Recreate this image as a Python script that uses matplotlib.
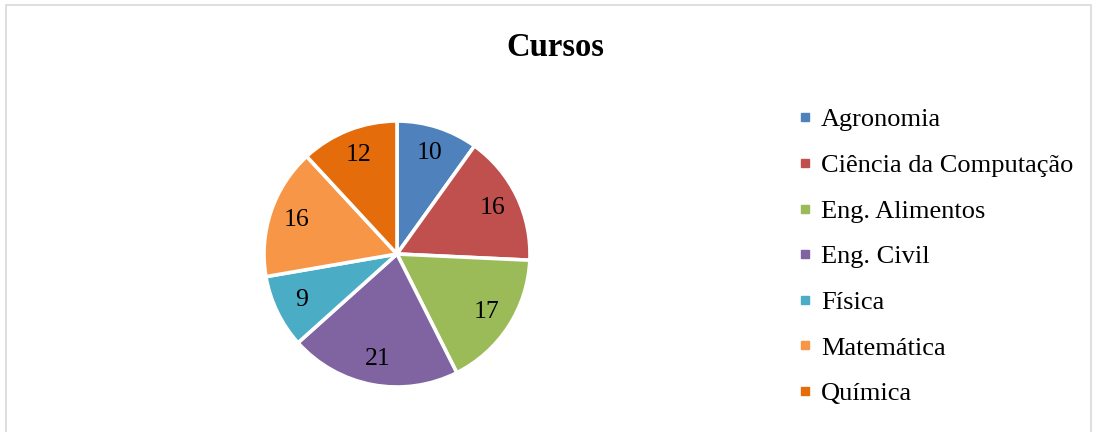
import matplotlib
matplotlib.use("Agg")
import matplotlib.pyplot as plt
from matplotlib.lines import Line2D
from matplotlib.patches import Rectangle

# dados do grafico
cursos = ["Agronomia", "Ciência da Computação", "Eng. Alimentos", "Eng. Civil",
          "Física", "Matemática", "Química"]
valores = [10, 16, 17, 21, 9, 16, 12]
cores = ["#4F81BD", "#C0504D", "#9BBB59", "#8064A2", "#4BACC6", "#F79646", "#E46C0A"]

plt.rcParams['font.family'] = ['Liberation Serif', 'DejaVu Serif']

fig = plt.figure(figsize=(10.95, 4.32), dpi=100)

# moldura do grafico
fig.patches.append(Rectangle((6 / 1095, -0.05), 1085 / 1095, 1.05 - 5 / 432,
                             transform=fig.transFigure, fill=False,
                             edgecolor="#D9D9D9", linewidth=1.2))

ax = fig.add_axes([264 / 1095, 45 / 432, 266 / 1095, 266 / 432])
total = sum(valores)
wedges, texts, autotexts = ax.pie(
    valores, colors=cores, startangle=90, counterclock=False, radius=1,
    autopct=lambda p: "%d" % round(p * total / 100), pctdistance=0.8,
    wedgeprops=dict(edgecolor="white", linewidth=2.6),
    textprops=dict(fontsize=18.5, color="black"))
ax.set_xlim(-1, 1)
ax.set_ylim(-1, 1)
ax.set_aspect("equal")

fig.text(555 / 1095, 1 - 48 / 432, "Cursos", ha="center", va="center",
         fontsize=23.5, fontweight="bold")

handles = [Line2D([], [], marker="s", linestyle="none", markersize=6.3,
                  markerfacecolor=c, markeredgecolor=c) for c in cores]
fig.legend(handles, cursos, loc="upper left",
           bbox_to_anchor=(797 / 1095, 1 - 108 / 432), frameon=False,
           fontsize=19, handlelength=0.6, handletextpad=0.3,
           labelspacing=0.84, borderaxespad=0, borderpad=0)

fig.savefig("out.png", dpi=100)
